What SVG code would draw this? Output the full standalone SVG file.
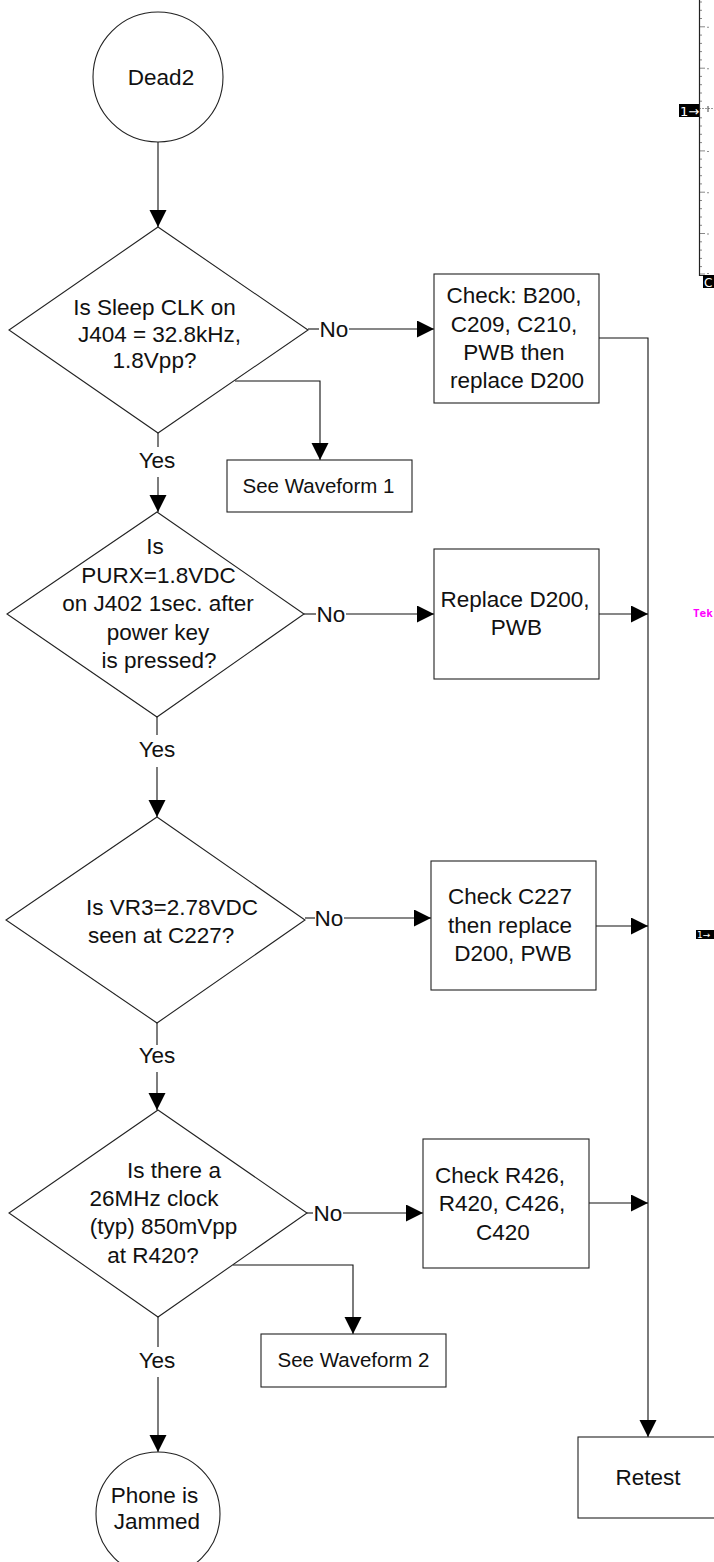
<svg xmlns="http://www.w3.org/2000/svg" width="714" height="1562" viewBox="0 0 714 1562">
<style>
.sh{fill:#fff;stroke:#222;stroke-width:1.1}
.ln{fill:none;stroke:#111;stroke-width:1.1}
.t{font-family:"Liberation Sans",Arial,sans-serif;font-size:22.5px;fill:#111;text-anchor:middle}
.ts{font-family:"Liberation Sans",Arial,sans-serif;font-size:20.5px;fill:#111;text-anchor:middle}
.tk{fill:none;stroke:#888;stroke-width:1}
</style>
<defs>
<marker id="ah" markerUnits="userSpaceOnUse" markerWidth="18" markerHeight="18" refX="17" refY="8.5" orient="auto">
<path d="M0,0 L17,8.5 L0,17 z" fill="#000"/>
</marker>
</defs>
<rect width="714" height="1562" fill="#fff"/>

<g id="scope">
<path class="tk" d="M699,2h3M699,10.3h3M699,18.5h3M699,35.1h3M699,43.4h3M699,51.6h3M699,59.9h3M699,76.4h3M699,84.7h3M699,93h3M699,101.2h3M699,117.8h3M699,126h3M699,134.3h3M699,142.6h3M699,159.1h3M699,167.4h3M699,175.7h3M699,183.9h3M699,200.5h3M699,208.7h3M699,217h3M699,225.3h3M699,241.8h3M699,250.1h3M699,258.4h3M699,266.6h3"/>
<path class="tk" d="M699,26.8h6M699,68.2h6M699,150.9h6M699,192.2h6M699,233.5h6M699,274h6"/>
<path d="M708,26.8v1M708,68.2v1M708,150.9v1M708,192.2v1M708,233.5v1M708,273v1" stroke="#444" stroke-width="1.2"/>
<path d="M699,108.5h15" stroke="#999" stroke-width="1" stroke-dasharray="2,1"/>
<path d="M708,106v6" stroke="#444" stroke-width="1"/>
<path d="M699.5,0V275.5H703" fill="none" stroke="#222" stroke-width="1.2"/>
<rect x="679" y="104" width="20" height="13" fill="#000"/>
<text x="680" y="116" font-family="'DejaVu Sans',sans-serif" font-size="13" fill="#fff">1→</text>
<rect x="703" y="275" width="11" height="13" fill="#000"/>
<text x="704" y="287" font-family="'DejaVu Sans',sans-serif" font-size="12" fill="#fff">C</text>
<text x="693" y="617" font-family="'DejaVu Sans Mono',monospace" font-size="11" font-weight="bold" fill="#ff00ff">Tek</text>
<rect x="696" y="930" width="18" height="9" fill="#000"/>
<text x="697" y="938" font-family="'DejaVu Sans',sans-serif" font-size="9" fill="#fff">1→</text>
</g>

<g id="connectors">
<line class="ln" x1="158" y1="142" x2="158" y2="227" marker-end="url(#ah)"/>
<line class="ln" x1="308" y1="329" x2="319" y2="329"/>
<line class="ln" x1="349" y1="329" x2="434" y2="329" marker-end="url(#ah)"/>
<polyline class="ln" points="235,381 320,381 320,460" marker-end="url(#ah)"/>
<line class="ln" x1="158" y1="433" x2="158" y2="447"/>
<line class="ln" x1="158" y1="477" x2="158" y2="512" marker-end="url(#ah)"/>
<polyline class="ln" points="599,338 648,338 648,1437" marker-end="url(#ah)"/>
<line class="ln" x1="304" y1="614" x2="316" y2="614"/>
<line class="ln" x1="346" y1="614" x2="434" y2="614" marker-end="url(#ah)"/>
<line class="ln" x1="599" y1="614" x2="648" y2="614" marker-end="url(#ah)"/>
<line class="ln" x1="157" y1="717" x2="157" y2="735"/>
<line class="ln" x1="157" y1="767" x2="157" y2="817" marker-end="url(#ah)"/>
<line class="ln" x1="305" y1="918" x2="315" y2="918"/>
<line class="ln" x1="344" y1="918" x2="431" y2="918" marker-end="url(#ah)"/>
<line class="ln" x1="596" y1="926" x2="648" y2="926" marker-end="url(#ah)"/>
<line class="ln" x1="157" y1="1023" x2="157" y2="1045"/>
<line class="ln" x1="157" y1="1072" x2="157" y2="1110" marker-end="url(#ah)"/>
<line class="ln" x1="307" y1="1213" x2="313" y2="1213"/>
<line class="ln" x1="343" y1="1213" x2="423" y2="1213" marker-end="url(#ah)"/>
<line class="ln" x1="589" y1="1203" x2="648" y2="1203" marker-end="url(#ah)"/>
<polyline class="ln" points="233,1265 353,1265 353,1334" marker-end="url(#ah)"/>
<line class="ln" x1="158" y1="1317" x2="158" y2="1347"/>
<line class="ln" x1="158" y1="1377" x2="158" y2="1452" marker-end="url(#ah)"/>
<text class="t" x="334" y="337">No</text>
<text class="t" x="157" y="468">Yes</text>
<text class="t" x="331" y="622">No</text>
<text class="t" x="157" y="757">Yes</text>
<text class="t" x="329" y="926">No</text>
<text class="t" x="157" y="1063">Yes</text>
<text class="t" x="328" y="1221">No</text>
<text class="t" x="157" y="1368">Yes</text>
</g>

<g id="start">
<circle class="sh" cx="158" cy="77" r="65"/>
<text class="t" x="161" y="85">Dead2</text>
</g>

<g id="q1">
<polygon class="sh" points="158,227 308,330 158,433 9,330"/>
<text class="t" x="154.5" y="315">Is Sleep CLK on</text>
<text class="t" x="159.5" y="341.5">J404 = 32.8kHz,</text>
<text class="t" x="154.5" y="368">1.8Vpp?</text>
</g>

<g id="fix1">
<rect class="sh" x="434" y="274" width="165" height="129"/>
<text class="t" x="514" y="303">Check: B200,</text>
<text class="t" x="514" y="332">C209, C210,</text>
<text class="t" x="514" y="360">PWB then</text>
<text class="t" x="517" y="388">replace D200</text>
</g>

<g id="wave1">
<rect class="sh" x="227" y="460" width="185" height="52"/>
<text class="ts" x="318.5" y="493">See Waveform 1</text>
</g>

<g id="q2">
<polygon class="sh" points="157,512 304,614 157,717 7,614"/>
<text class="t" x="155" y="554">Is</text>
<text class="t" x="158.5" y="583">PURX=1.8VDC</text>
<text class="t" x="158" y="611">on J402 1sec. after</text>
<text class="t" x="158" y="640">power key</text>
<text class="t" x="159" y="668">is pressed?</text>
</g>

<g id="fix2">
<rect class="sh" x="434" y="549" width="165" height="130"/>
<text class="t" x="515" y="607">Replace D200,</text>
<text class="t" x="516.5" y="635">PWB</text>
</g>

<g id="q3">
<polygon class="sh" points="157,817 305,920 157,1023 6,920"/>
<text class="t" x="86" y="915" style="text-anchor:start">Is VR3=2.78VDC</text>
<text class="t" x="88" y="943" style="text-anchor:start">seen at C227?</text>
</g>

<g id="fix3">
<rect class="sh" x="431" y="861" width="165" height="129"/>
<text class="t" x="510" y="904">Check C227</text>
<text class="t" x="510" y="933">then replace</text>
<text class="t" x="513" y="961">D200, PWB</text>
</g>

<g id="q4">
<polygon class="sh" points="158,1110 307,1213 158,1317 9,1213"/>
<text class="t" x="174" y="1178">Is there a</text>
<text class="t" x="154" y="1206">26MHz clock</text>
<text class="t" x="163.5" y="1234">(typ) 850mVpp</text>
<text class="t" x="153" y="1263">at R420?</text>
</g>

<g id="fix4">
<rect class="sh" x="423" y="1139" width="166" height="129"/>
<text class="t" x="500" y="1183">Check R426,</text>
<text class="t" x="502" y="1211">R420, C426,</text>
<text class="t" x="503" y="1240">C420</text>
</g>

<g id="wave2">
<rect class="sh" x="261" y="1334" width="185" height="53"/>
<text class="ts" x="353.5" y="1367">See Waveform 2</text>
</g>

<g id="retest">
<rect class="sh" x="578" y="1437" width="140" height="81"/>
<text class="t" x="648" y="1485">Retest</text>
</g>

<g id="end">
<circle class="sh" cx="158" cy="1514" r="62"/>
<text class="t" x="154.5" y="1503">Phone is</text>
<text class="t" x="157" y="1529">Jammed</text>
</g>
</svg>
